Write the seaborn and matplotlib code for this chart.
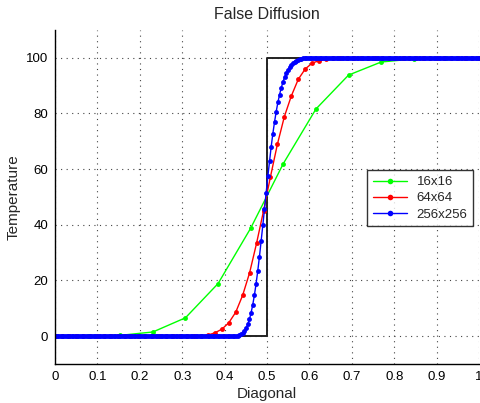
import numpy as np
import pandas as pd
import matplotlib
matplotlib.use("Agg")
import matplotlib.pyplot as plt
import seaborn as sns

# exact (step) solution along the diagonal
exact_x = [0.0, 0.5, 0.5, 1.0]
exact_y = [0.0, 0.0, 100.0, 100.0]

# 16x16 grid, 14 points along the diagonal
temp_16 = [0.0, 0.05, 0.3, 1.5, 6.6, 18.9, 38.8, 62.0, 81.6, 93.8, 98.5,
           99.6, 99.9, 100.0]

# 64x64 grid, 62 points along the diagonal
temp_64 = ([0.0] * 20
           + [0.05, 0.1, 0.4, 1.2, 2.5, 4.8, 8.6, 14.7, 22.8, 33.4, 45.0,
              57.3, 69.0, 78.9, 86.3, 92.3, 96.0, 98.1, 99.0, 99.6, 99.8,
              99.9]
           + [100.0] * 20)

# 256x256 grid, 254 points along the diagonal
temp_256 = ([0.0] * 107
            + [0.1, 0.1, 0.2, 0.4, 0.7, 1.1, 1.8, 2.8, 4.2, 6.0, 8.4, 11.3,
               14.8, 18.9, 23.5, 28.6, 34.1, 39.8, 45.7, 51.6, 57.4, 62.9,
               68.1, 72.8, 77.0, 80.7, 84.0, 86.8, 89.2, 91.3, 93.0, 94.5,
               95.7, 96.7, 97.5, 98.1, 98.6, 99.0, 99.3, 99.5, 99.7, 99.8,
               99.9]
            + [100.0] * 104)

labels = ["16x16", "64x64", "256x256"]
colors = ["#00ff00", "#ff0000", "#0000ff"]

frames = []
for lab, vals in zip(labels, [temp_16, temp_64, temp_256]):
    frames.append(pd.DataFrame({
        "Diagonal": np.linspace(0, 1, len(vals)),
        "Temperature": vals,
        "grid": lab,
    }))
df = pd.concat(frames, ignore_index=True)

sns.set_style("white")
plt.rcParams["font.family"] = ["Liberation Sans", "DejaVu Sans"]

fig = plt.figure(figsize=(4.8, 4.03), dpi=100)
ax = fig.add_axes([55 / 480, 39 / 403, 424 / 480, 334 / 403])

ax.plot(exact_x, exact_y, color="#222222", lw=1.4, zorder=1)

sns.lineplot(data=df, x="Diagonal", y="Temperature", hue="grid",
             hue_order=labels, palette=colors, marker="o", markersize=3.5,
             markeredgewidth=0, linewidth=1.0, sort=False, ax=ax,
             estimator=None, zorder=2)

# the finest grid is drawn a bit heavier, as in the original
for line in ax.lines:
    if line.get_label() == "256x256":
        line.set_markersize(4.5)
        line.set_linewidth(1.3)

ax.set_xlim(0, 1)
ax.set_ylim(-10, 110)
ax.set_xticks(np.arange(0, 1.01, 0.1))
ax.set_xticklabels(["0", "0.1", "0.2", "0.3", "0.4", "0.5", "0.6", "0.7",
                    "0.8", "0.9", "1"])
ax.set_yticks([0, 20, 40, 60, 80, 100])
ax.tick_params(direction="in", length=3, width=0.8, labelsize=9.5,
               colors="black", pad=5)
ax.grid(True, linestyle=(0, (1, 4)), color="#444444", linewidth=0.8)

for side in ["top", "right"]:
    ax.spines[side].set_visible(False)
for side in ["left", "bottom"]:
    ax.spines[side].set_color("black")
    ax.spines[side].set_linewidth(1.0)

ax.set_title("False Diffusion", fontsize=11.5, pad=8)
ax.set_xlabel("Diagonal", fontsize=11, labelpad=3)
ax.set_ylabel("Temperature", fontsize=11, labelpad=4)

leg = ax.legend(loc="upper left", bbox_to_anchor=(0.736, 0.581),
                borderaxespad=0, fontsize=9.5, frameon=True, fancybox=False,
                handlelength=2.6, borderpad=0.45, labelspacing=0.3,
                handletextpad=0.7)
leg.get_frame().set_edgecolor("black")
leg.get_frame().set_linewidth(1.0)
for h in leg.legend_handles:
    h.set_markersize(4)
    h.set_linewidth(1.0)

fig.savefig("out.png", dpi=100)
